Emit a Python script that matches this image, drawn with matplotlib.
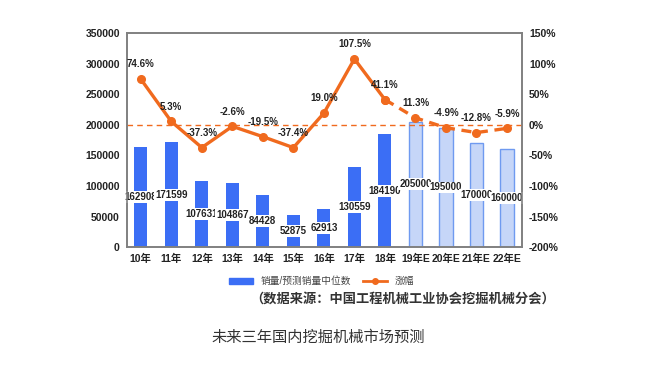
import matplotlib.pyplot as plt
import numpy as np
from matplotlib.patches import Patch
from matplotlib.lines import Line2D

plt.rcParams['font.family'] = ['Liberation Sans', 'Noto Sans CJK SC', 'DejaVu Sans']

# data
years = ['10年', '11年', '12年', '13年', '14年', '15年', '16年', '17年', '18年',
         '19年E', '20年E', '21年E', '22年E']
sales = [162908, 171599, 107631, 104867, 84428, 52875, 62913, 130559, 184190,
         205000, 195000, 170000, 160000]
growth = [74.6, 5.3, -37.3, -2.6, -19.5, -37.4, 19.0, 107.5, 41.1,
          11.3, -4.9, -12.8, -5.9]
n_actual = 9  # first 9 are real, the rest forecast

BLUE = '#3b6ef5'
LIGHT = '#c6d6f8'
EDGE = '#6f9af0'
ORANGE = '#f06a1e'

fig = plt.figure(figsize=(6.5, 3.7), dpi=100)
ax = fig.add_axes([0.195, 0.332, 0.608, 0.579])
ax2 = ax.twinx()

x = np.arange(len(years))
w = 0.43
ax.bar(x[:n_actual], sales[:n_actual], width=w, color=BLUE, zorder=2)
ax.bar(x[n_actual:], sales[n_actual:], width=w, color=LIGHT, edgecolor=EDGE,
       linewidth=1.0, zorder=2)

for xi, v in zip(x, sales):
    ax.text(xi, v / 2, str(v), ha='center', va='center', fontsize=7,
            fontweight='bold', color='#222222', zorder=3,
            bbox=dict(boxstyle='square,pad=0.1', fc='white', ec='none'))

ax.set_xlim(-0.46, 12.49)
ax.set_ylim(0, 350000)
ax.set_yticks(np.arange(0, 350001, 50000))
ax.set_xticks(x)
ax.set_xticklabels(years)
ax.tick_params(axis='both', length=0, labelsize=7.5, colors='#222222', pad=5)
for lab in ax.get_xticklabels() + ax.get_yticklabels():
    lab.set_fontweight('bold')

# growth line
ax2.set_ylim(-200, 150)
ax2.set_yticks(np.arange(-200, 151, 50))
ax2.set_yticklabels([f'{t}%' for t in range(-200, 151, 50)])
ax2.tick_params(axis='y', length=0, labelsize=7.5, colors='#222222', pad=5)
for lab in ax2.get_yticklabels():
    lab.set_fontweight('bold')

ax2.axhline(0, color=ORANGE, lw=1.0, ls=(0, (4, 3)), zorder=1)
ax2.plot(x[:n_actual], growth[:n_actual], color=ORANGE, lw=2.4, marker='o',
         ms=5.5, zorder=4)
ax2.plot(x[n_actual - 1:], growth[n_actual - 1:], color=ORANGE, lw=2.4,
         ls=(0, (3, 2)), marker='o', ms=5.5, zorder=4)

for xi, g in zip(x, growth):
    ax2.annotate(f'{g:.1f}%', (xi, g), xytext=(0, 7), textcoords='offset points',
                 ha='center', va='bottom', fontsize=7, fontweight='bold',
                 color='#222222', zorder=6)

for a in (ax, ax2):
    for s in a.spines.values():
        s.set_color('#808080')
        s.set_linewidth(1.2)

# legend
handles = [Patch(color=BLUE, label='销量/预测销量中位数'),
           Line2D([], [], color=ORANGE, lw=2, marker='o', ms=4, label='涨幅')]
fig.legend(handles=handles, loc='center', bbox_to_anchor=(0.495, 0.24), ncol=2,
           frameon=False, fontsize=7, handlelength=2.5, handleheight=0.5,
           columnspacing=1.2, labelcolor='#444444')

fig.text(0.62, 0.193, '（数据来源：中国工程机械工业协会挖掘机械分会）',
         ha='center', va='center', fontsize=9.5, fontweight='bold', color='#333333',
         family=['Noto Sans CJK SC', 'DejaVu Sans'])
fig.text(0.49, 0.088, '未来三年国内挖掘机械市场预测', ha='center', va='center',
         fontsize=11, color='#333333', family=['Noto Sans CJK SC', 'DejaVu Sans'])

fig.savefig('out.png', dpi=100)
